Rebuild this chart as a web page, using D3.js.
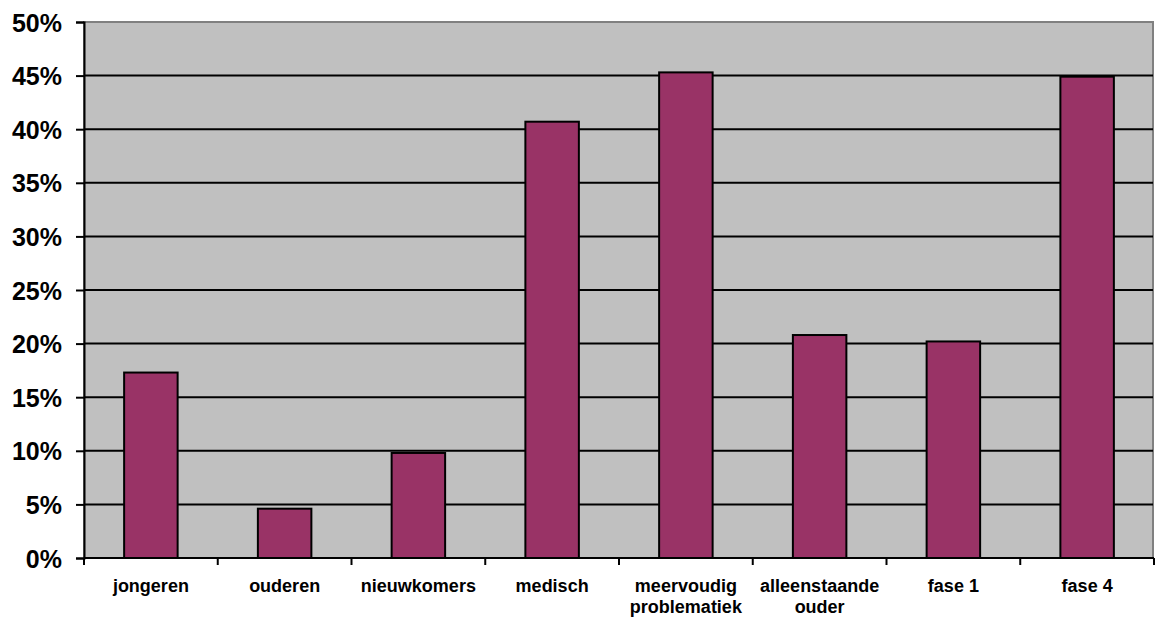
<!DOCTYPE html>
<html>
<head>
<meta charset="utf-8">
<script src="https://cdn.jsdelivr.net/npm/d3@7"></script>
<style>
  html, body { margin: 0; padding: 0; background: #fff; }
  svg { display: block; }
  text { font-family: "Liberation Sans", Arial, sans-serif; font-weight: bold; fill: #000; }
</style>
</head>
<body>
<svg id="chart" width="1159" height="618"></svg>
<script>
// Share per group (percent); "|" marks a line break in a category label
const categories = ["jongeren", "ouderen", "nieuwkomers", "medisch", "meervoudig|problematiek", "alleenstaande|ouder", "fase 1", "fase 4"];
const values = [17.3, 4.6, 9.8, 40.7, 45.3, 20.8, 20.2, 44.9];
const yTicks = [0, 5, 10, 15, 20, 25, 30, 35, 40, 45, 50];

const svg = d3.select("#chart");
const plotLeft = 84, plotRight = 1154, plotTop = 22, plotBottom = 558;

const x = d3.scaleBand()
  .domain(categories)
  .range([plotLeft, plotRight])
  .paddingInner(0.6)
  .paddingOuter(0.3);

const y = d3.scaleLinear()
  .domain([0, 50])
  .range([plotBottom, plotTop]);

// plot background
svg.append("rect")
  .attr("x", plotLeft)
  .attr("y", y(50))
  .attr("width", plotRight - 1 - plotLeft)
  .attr("height", plotBottom - y(50))
  .attr("fill", "#c0c0c0")
  .attr("stroke", "#808080")
  .attr("stroke-width", 2);

// horizontal gridlines
svg.append("g")
  .selectAll("line")
  .data(yTicks.filter(t => t > 0 && t < 50))
  .join("line")
  .attr("x1", plotLeft)
  .attr("x2", plotRight - 1)
  .attr("y1", d => y(d))
  .attr("y2", d => y(d))
  .attr("stroke", "#000")
  .attr("stroke-width", 2);

// bars
svg.append("g")
  .selectAll("rect")
  .data(values)
  .join("rect")
  .attr("x", (d, i) => x(categories[i]))
  .attr("y", d => y(d))
  .attr("width", x.bandwidth())
  .attr("height", d => plotBottom - y(d))
  .attr("fill", "#993366")
  .attr("stroke", "#000")
  .attr("stroke-width", 2);

// y axis
const yAxis = d3.axisLeft(y)
  .tickValues(yTicks)
  .tickSize(8)
  .tickPadding(14)
  .tickFormat(d => d + "%");
const gy = svg.append("g")
  .attr("transform", `translate(${plotLeft},0)`)
  .call(yAxis);
gy.selectAll("path.domain").attr("stroke", "#000").attr("stroke-width", 2);
gy.selectAll(".tick line").attr("stroke", "#000").attr("stroke-width", 2);
gy.selectAll(".tick text")
  .attr("font-size", 25)
  .attr("font-family", "Liberation Sans, Arial, sans-serif")
  .attr("font-weight", "bold")
  .attr("fill", "#000")
  .attr("dy", "0.36em");

// x axis with tick marks between categories
const xBoundaries = d3.range(categories.length + 1).map(i =>
  plotLeft + i * (plotRight - plotLeft) / categories.length);
const gx = svg.append("g");
gx.append("line")
  .attr("x1", plotLeft).attr("x2", plotRight)
  .attr("y1", plotBottom).attr("y2", plotBottom)
  .attr("stroke", "#000").attr("stroke-width", 2);
gx.selectAll("line.tick")
  .data(xBoundaries)
  .join("line")
  .attr("class", "tick")
  .attr("x1", d => d).attr("x2", d => d)
  .attr("y1", plotBottom).attr("y2", plotBottom + 7)
  .attr("stroke", "#000").attr("stroke-width", 2);

// category labels
const labels = gx.selectAll("text.cat")
  .data(categories)
  .join("text")
  .attr("class", "cat")
  .attr("text-anchor", "middle")
  .attr("font-size", 18)
  .attr("transform", d => `translate(${x(d) + x.bandwidth() / 2},${plotBottom + 34})`);
labels.each(function(d) {
  const t = d3.select(this);
  d.split("|").forEach((w, i) => {
    t.append("tspan").attr("x", 0).attr("dy", i === 0 ? 0 : 21).text(w);
  });
});
</script>
</body>
</html>
